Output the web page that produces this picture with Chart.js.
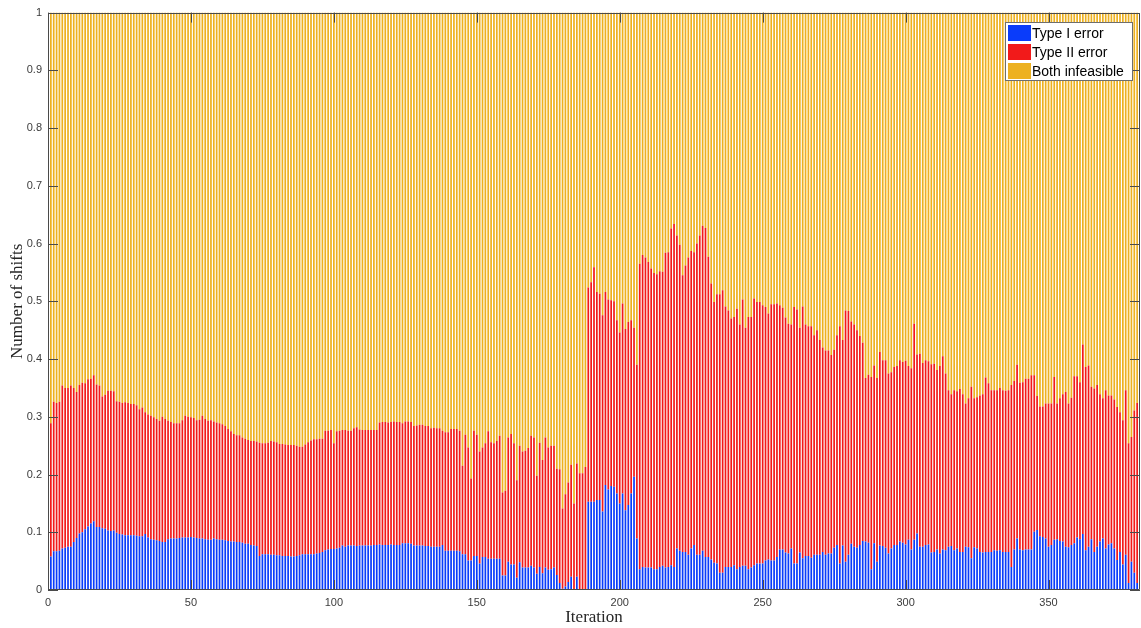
<!DOCTYPE html>
<html>
<head>
<meta charset="utf-8">
<script src="https://cdn.jsdelivr.net/npm/chart.js@4.4.1/dist/chart.umd.min.js"></script>
<style>
  html, body { margin: 0; padding: 0; background: #fff; }
</style>
</head>
<body>
<canvas id="myChart" width="1141" height="628"></canvas>
<script>
  // share of shifts with a Type I error, per iteration (1..381)
  var typeIShare = [
    0.058, 0.067, 0.067, 0.068, 0.072, 0.073, 0.075, 0.075, 0.083, 0.090,
    0.098, 0.100, 0.105, 0.110, 0.115, 0.119, 0.109, 0.109, 0.107, 0.106,
    0.103, 0.102, 0.103, 0.099, 0.097, 0.096, 0.095, 0.095, 0.095, 0.095,
    0.094, 0.093, 0.093, 0.097, 0.091, 0.088, 0.087, 0.086, 0.085, 0.083,
    0.083, 0.088, 0.089, 0.089, 0.089, 0.090, 0.091, 0.091, 0.091, 0.092,
    0.091, 0.090, 0.089, 0.089, 0.088, 0.087, 0.087, 0.089, 0.088, 0.087,
    0.087, 0.086, 0.085, 0.084, 0.084, 0.083, 0.083, 0.082, 0.080, 0.080,
    0.078, 0.077, 0.076, 0.059, 0.062, 0.062, 0.062, 0.061, 0.061, 0.060,
    0.060, 0.059, 0.059, 0.059, 0.058, 0.058, 0.059, 0.060, 0.062, 0.062,
    0.062, 0.062, 0.062, 0.063, 0.064, 0.066, 0.069, 0.070, 0.071, 0.071,
    0.072, 0.073, 0.077, 0.075, 0.077, 0.077, 0.077, 0.076, 0.077, 0.077,
    0.077, 0.077, 0.077, 0.078, 0.078, 0.079, 0.078, 0.078, 0.078, 0.079,
    0.078, 0.078, 0.078, 0.081, 0.081, 0.081, 0.080, 0.077, 0.077, 0.077,
    0.077, 0.076, 0.076, 0.075, 0.075, 0.075, 0.075, 0.078, 0.068, 0.068,
    0.068, 0.068, 0.068, 0.067, 0.062, 0.062, 0.051, 0.051, 0.059, 0.059,
    0.046, 0.057, 0.057, 0.054, 0.054, 0.054, 0.054, 0.054, 0.025, 0.025,
    0.049, 0.044, 0.044, 0.021, 0.048, 0.039, 0.039, 0.039, 0.042, 0.039,
    0.028, 0.040, 0.029, 0.039, 0.035, 0.036, 0.039, 0.026, 0.012, 0.002,
    0.006, 0.014, 0.023, 0.000, 0.023, 0.000, 0.000, 0.000, 0.153, 0.153,
    0.153, 0.156, 0.156, 0.136, 0.182, 0.174, 0.180, 0.179, 0.167, 0.150,
    0.167, 0.138, 0.147, 0.167, 0.196, 0.089, 0.036, 0.040, 0.039, 0.039,
    0.039, 0.036, 0.036, 0.040, 0.042, 0.039, 0.040, 0.043, 0.040, 0.072,
    0.068, 0.066, 0.066, 0.061, 0.072, 0.078, 0.061, 0.061, 0.068, 0.057,
    0.057, 0.053, 0.047, 0.046, 0.030, 0.030, 0.040, 0.040, 0.040, 0.043,
    0.036, 0.040, 0.042, 0.042, 0.036, 0.039, 0.043, 0.046, 0.046, 0.046,
    0.051, 0.053, 0.051, 0.051, 0.057, 0.070, 0.070, 0.065, 0.063, 0.072,
    0.046, 0.046, 0.065, 0.055, 0.059, 0.059, 0.056, 0.061, 0.061, 0.061,
    0.066, 0.061, 0.063, 0.063, 0.073, 0.078, 0.046, 0.077, 0.049, 0.061,
    0.080, 0.075, 0.073, 0.078, 0.085, 0.084, 0.082, 0.036, 0.081, 0.049,
    0.077, 0.076, 0.073, 0.063, 0.072, 0.078, 0.078, 0.084, 0.082, 0.079,
    0.087, 0.070, 0.087, 0.098, 0.075, 0.075, 0.078, 0.079, 0.065, 0.066,
    0.070, 0.063, 0.070, 0.069, 0.075, 0.076, 0.069, 0.072, 0.066, 0.066,
    0.075, 0.074, 0.055, 0.074, 0.072, 0.066, 0.065, 0.066, 0.066, 0.066,
    0.069, 0.068, 0.069, 0.066, 0.066, 0.066, 0.040, 0.070, 0.089, 0.070,
    0.069, 0.070, 0.070, 0.070, 0.101, 0.104, 0.093, 0.092, 0.089, 0.075,
    0.078, 0.087, 0.088, 0.085, 0.084, 0.075, 0.074, 0.078, 0.081, 0.091,
    0.088, 0.097, 0.069, 0.075, 0.088, 0.066, 0.075, 0.084, 0.089, 0.072,
    0.079, 0.081, 0.072, 0.052, 0.066, 0.044, 0.061, 0.012, 0.049, 0.030, 0.012
  ];

  // share of shifts with any error (Type I + Type II)
  var errorShare = [
    0.289, 0.326, 0.324, 0.326, 0.354, 0.350, 0.350, 0.354, 0.350, 0.343,
    0.355, 0.359, 0.358, 0.365, 0.366, 0.372, 0.356, 0.354, 0.335, 0.338,
    0.345, 0.345, 0.344, 0.327, 0.326, 0.324, 0.325, 0.324, 0.322, 0.322,
    0.320, 0.313, 0.316, 0.308, 0.304, 0.302, 0.299, 0.296, 0.293, 0.300,
    0.296, 0.293, 0.291, 0.289, 0.289, 0.289, 0.294, 0.302, 0.300, 0.299,
    0.298, 0.294, 0.295, 0.302, 0.296, 0.293, 0.294, 0.292, 0.290, 0.289,
    0.287, 0.284, 0.279, 0.275, 0.270, 0.268, 0.268, 0.264, 0.262, 0.260,
    0.258, 0.258, 0.257, 0.255, 0.254, 0.254, 0.255, 0.258, 0.257, 0.256,
    0.253, 0.253, 0.252, 0.251, 0.251, 0.251, 0.250, 0.248, 0.248, 0.252,
    0.256, 0.259, 0.261, 0.261, 0.262, 0.262, 0.276, 0.276, 0.277, 0.254,
    0.275, 0.276, 0.277, 0.277, 0.276, 0.276, 0.280, 0.282, 0.278, 0.277,
    0.277, 0.277, 0.277, 0.277, 0.277, 0.290, 0.291, 0.291, 0.290, 0.291,
    0.292, 0.291, 0.291, 0.289, 0.292, 0.292, 0.291, 0.284, 0.285, 0.286,
    0.286, 0.284, 0.284, 0.280, 0.281, 0.280, 0.280, 0.276, 0.273, 0.273,
    0.279, 0.279, 0.279, 0.276, 0.215, 0.269, 0.247, 0.193, 0.276, 0.269,
    0.240, 0.247, 0.254, 0.275, 0.256, 0.254, 0.258, 0.267, 0.169, 0.172,
    0.264, 0.270, 0.254, 0.190, 0.250, 0.240, 0.241, 0.246, 0.267, 0.264,
    0.198, 0.255, 0.225, 0.264, 0.247, 0.250, 0.250, 0.210, 0.209, 0.141,
    0.166, 0.186, 0.217, 0.150, 0.219, 0.202, 0.202, 0.213, 0.524, 0.533,
    0.559, 0.516, 0.513, 0.476, 0.516, 0.503, 0.502, 0.500, 0.467, 0.446,
    0.496, 0.452, 0.464, 0.467, 0.454, 0.390, 0.565, 0.580, 0.576, 0.568,
    0.557, 0.549, 0.547, 0.552, 0.551, 0.584, 0.585, 0.626, 0.634, 0.614,
    0.598, 0.545, 0.562, 0.576, 0.587, 0.585, 0.600, 0.614, 0.631, 0.627,
    0.577, 0.531, 0.499, 0.512, 0.512, 0.519, 0.491, 0.484, 0.470, 0.473,
    0.487, 0.460, 0.503, 0.454, 0.473, 0.473, 0.505, 0.499, 0.499, 0.493,
    0.490, 0.479, 0.495, 0.495, 0.496, 0.493, 0.489, 0.472, 0.461, 0.460,
    0.490, 0.486, 0.454, 0.491, 0.460, 0.457, 0.457, 0.441, 0.450, 0.433,
    0.420, 0.415, 0.415, 0.407, 0.416, 0.441, 0.457, 0.433, 0.484, 0.483,
    0.465, 0.460, 0.450, 0.440, 0.428, 0.367, 0.373, 0.369, 0.389, 0.367,
    0.412, 0.398, 0.398, 0.375, 0.377, 0.386, 0.388, 0.398, 0.395, 0.397,
    0.388, 0.384, 0.461, 0.408, 0.409, 0.393, 0.398, 0.396, 0.391, 0.392,
    0.381, 0.388, 0.405, 0.375, 0.346, 0.339, 0.346, 0.344, 0.348, 0.339,
    0.323, 0.332, 0.352, 0.332, 0.334, 0.337, 0.339, 0.368, 0.358, 0.346,
    0.346, 0.346, 0.350, 0.346, 0.345, 0.346, 0.355, 0.362, 0.390, 0.359,
    0.360, 0.366, 0.366, 0.372, 0.372, 0.336, 0.318, 0.318, 0.323, 0.323,
    0.323, 0.369, 0.323, 0.332, 0.339, 0.343, 0.323, 0.333, 0.370, 0.370,
    0.360, 0.425, 0.386, 0.389, 0.352, 0.349, 0.355, 0.339, 0.332, 0.346,
    0.337, 0.337, 0.330, 0.317, 0.308, 0.294, 0.346, 0.254, 0.265, 0.311, 0.324
  ];

  var seriesNames = ["Type I error", "Type II error", "Both infeasible"];
  var seriesColors = ["#0a3cfa", "#f21a1a", "#edb120"];
  var xTicks = [0, 50, 100, 150, 200, 250, 300, 350];

  // stacked parts: blue, red = error - blue, yellow = rest of the shifts
  var typeI = typeIShare.map(function (v, i) { return { x: i + 1, y: v }; });
  var typeII = errorShare.map(function (v, i) { return { x: i + 1, y: +(v - typeIShare[i]).toFixed(3) }; });
  var infeasible = errorShare.map(function (v, i) { return { x: i + 1, y: +(1 - v).toFixed(3) }; });

  var tickFont = { family: "'Liberation Sans', Arial, sans-serif", size: 11 };
  var titleFont = { family: "'Liberation Serif', 'DejaVu Serif', serif", size: 17 };

  // matlab style box, inward ticks and the legend in the corner
  var axesBox = {
    id: "axesBox",
    afterDatasetsDraw: function (chart) {
      var ctx = chart.ctx, a = chart.chartArea;
      var x = chart.scales.x, y = chart.scales.y;
      ctx.save();
      ctx.strokeStyle = "#4a4a4a";
      ctx.lineWidth = 1;
      ctx.beginPath();
      y.ticks.forEach(function (t) {
        var py = Math.round(y.getPixelForValue(t.value)) + 0.5;
        ctx.moveTo(a.left, py); ctx.lineTo(a.left + 10, py);
        ctx.moveTo(a.right, py); ctx.lineTo(a.right - 10, py);
      });
      x.ticks.forEach(function (t) {
        var px = Math.round(x.getPixelForValue(t.value)) + 0.5;
        ctx.moveTo(px, a.bottom); ctx.lineTo(px, a.bottom - 10);
        ctx.moveTo(px, a.top); ctx.lineTo(px, a.top + 10);
      });
      ctx.rect(Math.round(a.left) + 0.5, Math.round(a.top) + 0.5,
        Math.round(a.right - a.left) - 1, Math.round(a.bottom - a.top) - 1);
      ctx.stroke();

      // legend
      var lx = 1005, ly = 22, lw = 128, lh = 59;
      ctx.fillStyle = "#ffffff";
      ctx.fillRect(lx, ly, lw, lh);
      ctx.strokeStyle = "#6e6e6e";
      ctx.strokeRect(lx + 0.5, ly + 0.5, lw - 1, lh - 1);
      ctx.font = "14px 'Liberation Sans', Arial, sans-serif";
      ctx.textBaseline = "middle";
      chart.data.datasets.forEach(function (ds, i) {
        var cy = ly + 11 + i * 19;
        ctx.fillStyle = ds.backgroundColor;
        ctx.fillRect(lx + 3, cy - 8, 23, 16);
        ctx.fillStyle = "#000000";
        ctx.fillText(ds.label, lx + 27, cy + 1);
      });
      ctx.restore();
    }
  };

  var ctx = document.getElementById("myChart").getContext("2d");
  var myChart = new Chart(ctx, {
    type: "bar",
    data: {
      datasets: [
        { label: seriesNames[0], data: typeI, backgroundColor: seriesColors[0] },
        { label: seriesNames[1], data: typeII, backgroundColor: seriesColors[1] },
        { label: seriesNames[2], data: infeasible, backgroundColor: seriesColors[2] }
      ]
    },
    options: {
      responsive: false,
      animation: false,
      devicePixelRatio: 1,
      barPercentage: 0.6,
      categoryPercentage: 1,
      layout: { padding: { top: 12, right: 1, left: 0, bottom: 0 } },
      plugins: {
        legend: { display: false },
        tooltip: { enabled: false }
      },
      scales: {
        x: {
          type: "linear",
          stacked: true,
          offset: false,
          min: 0,
          max: 382,
          afterBuildTicks: function (scale) {
            scale.ticks = xTicks.map(function (v) { return { value: v }; });
          },
          afterFit: function (scale) { scale.height = 38; },
          grid: { display: false, drawTicks: false },
          border: { display: false },
          ticks: { color: "#3c3c3c", font: tickFont, padding: 6, maxRotation: 0 },
          title: { display: true, text: "Iteration", color: "#262626", font: titleFont, padding: { top: 0, bottom: 0 } }
        },
        y: {
          stacked: true,
          min: 0,
          max: 1,
          afterFit: function (scale) { scale.width = 48; },
          grid: { display: false, drawTicks: false },
          border: { display: false },
          ticks: {
            stepSize: 0.1,
            color: "#3c3c3c",
            font: tickFont,
            padding: 6,
            callback: function (v) { return String(Number(v.toFixed(1))); }
          },
          title: { display: true, text: "Number of shifts", color: "#262626", font: titleFont, padding: { top: 7, bottom: 0 } }
        }
      }
    },
    plugins: [axesBox]
  });
</script>
</body>
</html>
